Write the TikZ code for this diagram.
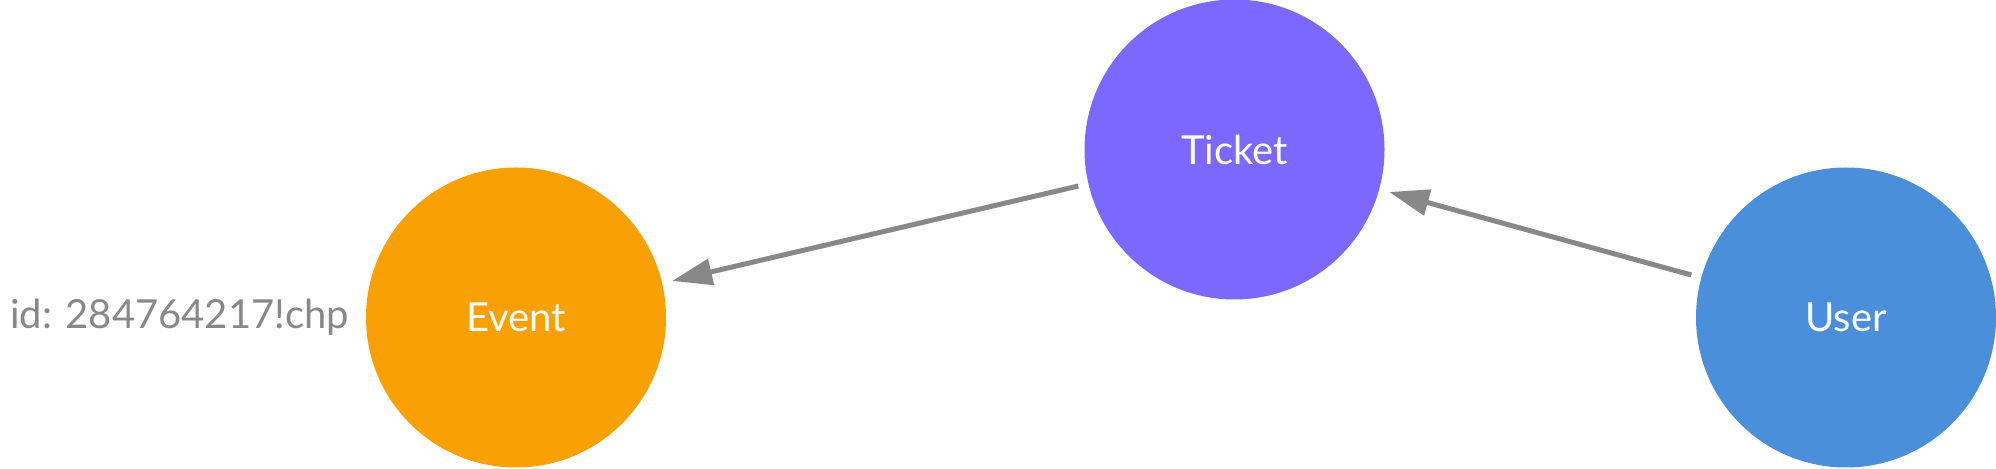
\documentclass[tikz,border=0pt]{standalone}
\usepackage{fontspec}
\setmainfont{Lato}
\usepackage{tikz}
\usetikzlibrary{arrows.meta,positioning}
\usepackage{xcolor}

\definecolor{eventorange}{HTML}{F9A004}
\definecolor{ticketpurple}{HTML}{7D68FF}
\definecolor{userblue}{HTML}{4B8FDA}
\definecolor{relgray}{HTML}{888888}

\begin{document}
\begin{tikzpicture}[x=0.5pt, y=-0.5pt,
    entity/.style={circle, fill=#1, minimum size=150pt, inner sep=0pt,
        text=white, font=\fontsize{20}{24}\selectfont},
    rel/.style={draw=relgray, line width=2.5pt,
        -{Triangle[length=20pt,width=13pt]}, shorten <=5pt, shorten >=5pt}]

    \useasboundingbox (0,0) rectangle (1996,469);

    % ---------------- Nodes ----------------
    \foreach \name/\x/\y/\col/\txt in {event/516/317.5/eventorange/Event,
        ticket/1234.5/149.5/ticketpurple/Ticket, user/1846/317.5/userblue/User} {
        \node[entity=\col] (\name) at (\x,\y) {\txt};
    }

    % ---------------- Property label ----------------
    \node[text=relgray, inner sep=0pt, font=\fontsize{20}{24}\selectfont,
        left=8pt of event] (eventid) {id: 284764217!chp};

    % ---------------- Relationships ----------------
    \draw[rel] (ticket) -- (event);
    \draw[rel] (user) -- (ticket);

\end{tikzpicture}
\end{document}
